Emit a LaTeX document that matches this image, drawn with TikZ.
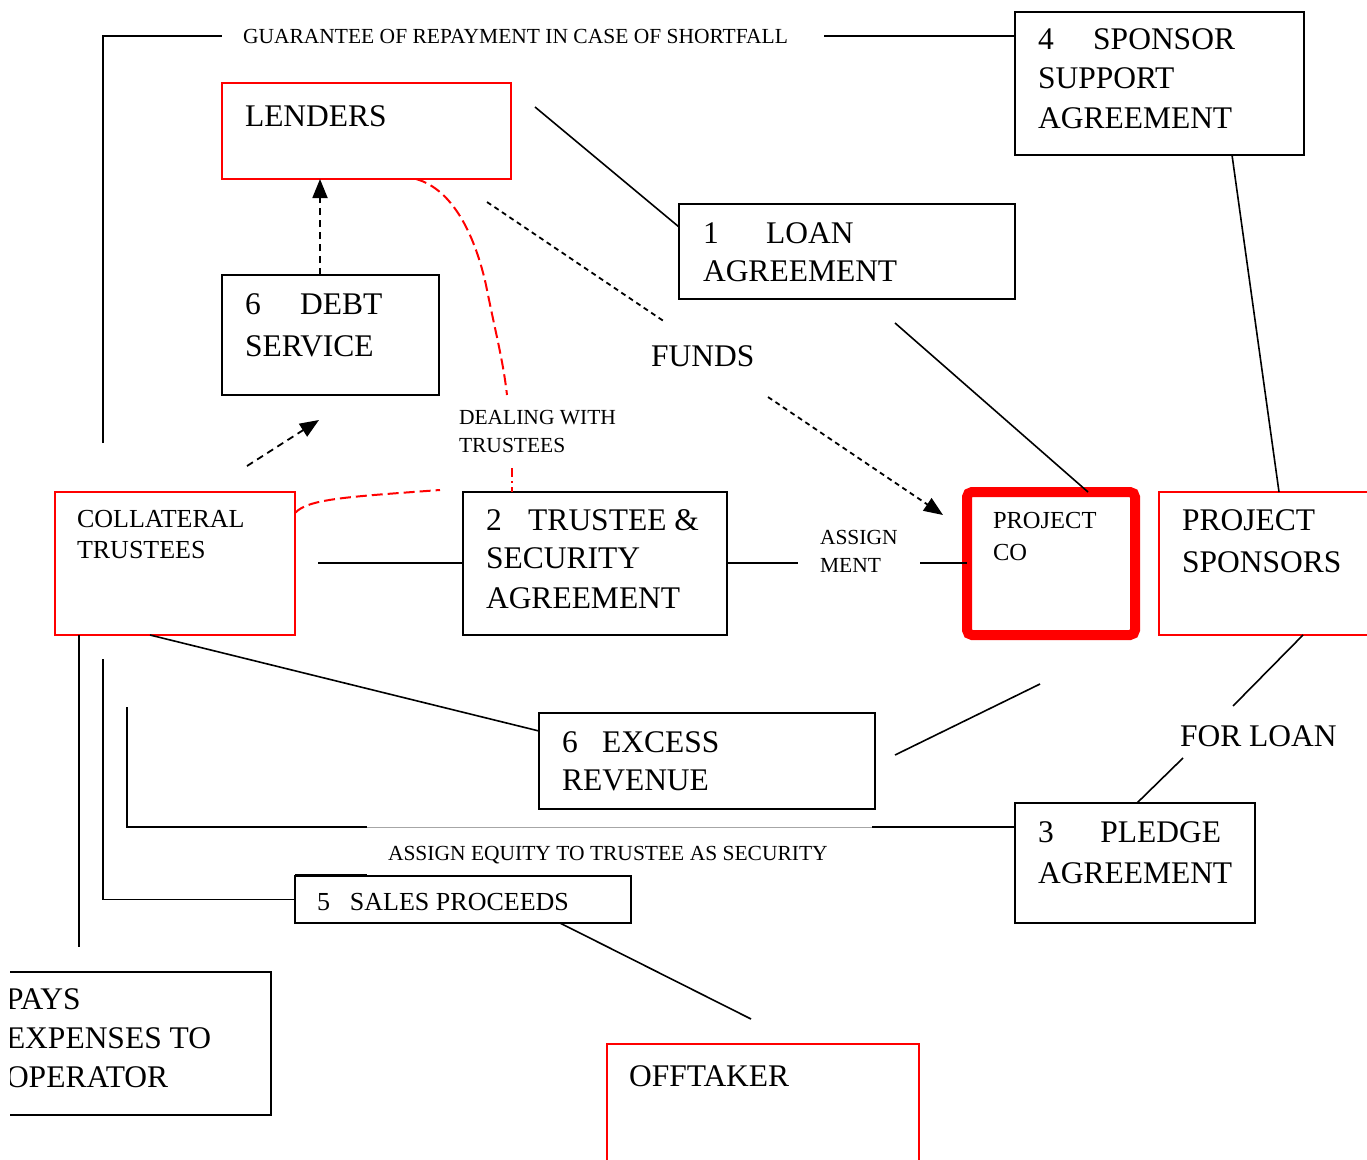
\documentclass[tikz,border=0pt]{standalone}
\usepackage{fontspec}
\setmainfont{Liberation Serif}
\usetikzlibrary{arrows.meta,calc}
\newcommand\myfs[1]{\fontsize{#1}{#1}\selectfont}
\tikzset{
  bbox/.style={draw=black, line width=1.6pt, inner sep=0pt, outer sep=0pt, anchor=north west},
  rbox/.style={draw=red, line width=1.4pt, inner sep=0pt, outer sep=0pt, anchor=north west},
  pbox/.style={draw=red, line width=10pt, rounded corners=5pt, inner sep=0pt, outer sep=0pt, anchor=north west},
  big/.style={inner sep=0pt, outer sep=0pt, anchor=base west, font=\myfs{31.5}},
  med/.style={inner sep=0pt, outer sep=0pt, anchor=base west, font=\myfs{26}},
  pco/.style={inner sep=0pt, outer sep=0pt, anchor=base west, font=\myfs{24.5}},
  sml/.style={inner sep=0pt, outer sep=0pt, anchor=base west, font=\myfs{21.5}},
  conn/.style={line width=1.6pt},
  greyline/.style={line width=0.8pt, draw=black!35},
  dsh/.style={line width=1.8pt, dash pattern=on 7pt off 5pt},
  fund/.style={line width=1.8pt, dash pattern=on 5pt off 4pt},
  rdsh/.style={line width=2pt, draw=red, dash pattern=on 11pt off 5pt},
  rdashdot/.style={line width=2pt, draw=red, dash pattern=on 9pt off 4pt on 2pt off 4pt},
  tip/.style={-{Triangle[length=19pt,width=15pt]}}
}
\begin{document}
\begin{tikzpicture}[x=1pt,y=-1pt]
\useasboundingbox (0,0) rectangle (1367,1159);
\clip (0,0) rectangle (1367,1159);

% ---------- boxes ----------
\node[bbox, minimum width=289pt, minimum height=143pt] (box4) at (1015,12) {};
\node[rbox, minimum width=289pt, minimum height=96pt] (lenders) at (222,83) {};
\node[bbox, minimum width=336pt, minimum height=95pt] (loan) at (679,204) {};
\node[bbox, minimum width=217pt, minimum height=120pt] (debt) at (222,275) {};
\node[rbox, minimum width=240pt, minimum height=143pt] (coll) at (55,492) {};
\node[bbox, minimum width=264pt, minimum height=143pt] (trust) at (463,492) {};
\node[pbox, minimum width=168pt, minimum height=143pt] (pco) at (967,492) {};
\node[rbox, minimum width=240pt, minimum height=143pt] (spons) at (1159,492) {};
\node[bbox, minimum width=336pt, minimum height=96pt] (excess) at (539,713) {};
\node[bbox, minimum width=240pt, minimum height=120pt] (pledge) at (1015,803) {};
\node[bbox, minimum width=336pt, minimum height=47pt] (sales) at (295,876) {};
\node[rbox, minimum width=312pt, minimum height=150pt] (offt) at (607,1044) {};

% ---------- texts ----------
\node[sml] (tguar) at (243,43) {GUARANTEE OF REPAYMENT IN CASE OF SHORTFALL};
\node[big] (t4a) at (1038,49) {4\hspace{39.5pt}SPONSOR};
\node[big] (t4b) at (1038,88) {SUPPORT};
\node[big] (t4c) at (1038,128) {AGREEMENT};
\node[big] (tlend) at (245,126) {LENDERS};
\node[big] (t1a) at (703,243) {1\hspace{47.5pt}LOAN};
\node[big] (t1b) at (703,281) {AGREEMENT};
\node[big] (tdebta) at (245,314) {6\hspace{39.5pt}DEBT};
\node[big] (tdebtb) at (245,356) {SERVICE};
\node[big] (tfunds) at (651,366) {FUNDS};
\node[sml] (tdeala) at (459,424) {DEALING WITH};
\node[sml] (tdealb) at (459,452) {TRUSTEES};
\node[med] (tcolla) at (77,527) {COLLATERAL};
\node[med] (tcollb) at (77,558) {TRUSTEES};
\node[big] (t2a) at (486,530) {2\hspace{26.5pt}TRUSTEE \&};
\node[big] (t2b) at (486,568) {SECURITY};
\node[big] (t2c) at (486,608) {AGREEMENT};
\node[sml] (tassa) at (820,544) {ASSIGN};
\node[sml] (tassb) at (820,572) {MENT};
\node[pco] (tpcoa) at (993,528) {PROJECT};
\node[pco] (tpcob) at (993,560) {CO};
\node[big] (tspa) at (1182,530) {PROJECT};
\node[big] (tspb) at (1182,572) {SPONSORS};
\node[big] (tfor) at (1180,746) {FOR LOAN};
\node[big] (t6a) at (562,752) {6\hspace{24.5pt}EXCESS};
\node[big] (t6b) at (562,790) {REVENUE};
\node[big] (t3a) at (1038,842) {3\hspace{46.5pt}PLEDGE};
\node[big] (t3b) at (1038,883) {AGREEMENT};
\node[sml] (tequity) at (388,860) {ASSIGN EQUITY TO TRUSTEE AS SECURITY};
\node[med] (t5) at (317,910) {5\hspace{20pt}SALES PROCEEDS};
\node[big] (toff) at (629,1086) {OFFTAKER};

\begin{scope}
\clip (10,950) rectangle (300,1130);
\node[bbox, minimum width=290pt, minimum height=143pt] (pays) at (-19,972) {};
\node[big] (tpaya) at (6,1009) {PAYS};
\node[big] (tpayb) at (6,1048) {EXPENSES TO};
\node[big] (tpayc) at (6,1087) {OPERATOR};
\end{scope}

% ---------- connectors ----------
% guarantee of repayment
\coordinate (gA) at (103,443); \coordinate (gB) at (222,36); \coordinate (gC) at (824,36);
\draw[conn] (gA) |- (gB);
\draw[conn] (gC) -- (gC -| box4.west);

% lenders -- loan agreement
\coordinate (lA) at (535,107); \coordinate (lB) at (600,227);
\draw[conn] (lA) -- (lB -| loan.west);

% loan agreement -- project co
\coordinate (pA) at (895,323); \coordinate (pB) at (1088,400);
\draw[conn] (pA) -- (pB |- pco.north);

% sponsor support -- project sponsors
\coordinate (sA) at (1232,300); \coordinate (sB) at (1279,300);
\draw[conn] (sA |- box4.south) -- (sB |- spons.north);

% funds
\coordinate (fA) at (487,202); \coordinate (fB) at (665,322);
\coordinate (fC) at (768,397); \coordinate (fD) at (943,515);
\draw[fund] (fA) -- (fB);
\draw[fund, tip] (fC) -- (fD);

% debt service -> lenders
\coordinate (dA) at (320,230);
\draw[dsh, tip] (dA |- debt.north) -- (dA |- lenders.south);

% collateral trustees -> debt service
\coordinate (cA) at (247,466); \coordinate (cB) at (319,420);
\draw[dsh, tip] (cA) -- (cB);

% dealing with trustees (red)
\coordinate (rA) at (416,250); \coordinate (rB) at (507,395);
\draw[rdsh] (rA |- lenders.south) .. controls (455,190) and (476,240) .. (486,285)
  .. controls (496,335) and (503,360) .. (rB);
\coordinate (rC) at (512,468);
\draw[rdashdot] (rC) -- (rC |- trust.north);
\coordinate (rD) at (250,513); \coordinate (rE) at (440,490);
\draw[rdsh] (rD -| coll.east) .. controls (308,499) and (345,497) .. (rE);

% collateral -- trustee & security
\coordinate (tA) at (318,563);
\draw[conn] (tA) -- (tA -| trust.west);

% assignment
\coordinate (aA) at (798,563); \coordinate (aB) at (920,563);
\draw[conn] (aA -| trust.east) -- (aA);
\draw[conn] (aB) -- (aB -| pco.west);

% project sponsors -- for loan -- pledge
\coordinate (fl1) at (1303,600); \coordinate (fl2) at (1233,706);
\coordinate (fl3) at (1183,758); \coordinate (fl4) at (1137,780);
\draw[conn] (fl1 |- spons.south) -- (fl2);
\draw[conn] (fl3) -- (fl4 |- pledge.north);

% collateral -- excess revenue
\coordinate (eA) at (150,600); \coordinate (eB) at (500,731);
\draw[conn] (eA |- coll.south) -- (eB -| excess.west);

% excess revenue -- project co
\coordinate (xA) at (895,755); \coordinate (xB) at (1040,684);
\draw[conn] (xA) -- (xB);

% assign equity
\coordinate (qA) at (127,707); \coordinate (qB) at (367,827); \coordinate (qC) at (872,827);
\draw[conn] (qA) |- (qB);
\draw[greyline] (qB) -- (qC);
\draw[conn] (qC) -- (qC -| pledge.west);

% sales proceeds
\coordinate (spA) at (103,659);
\draw[conn] (spA) |- (sales.west);
\coordinate (spB) at (367,875);
\draw[conn] (spB -| sales.west) -- (spB);
\coordinate (oA) at (560,950); \coordinate (oB) at (751,1019);
\draw[conn] (oA |- sales.south) -- (oB);

% collateral -- pays expenses
\coordinate (yA) at (79,947); 
\draw[conn] (yA |- coll.south) -- (yA);
\end{tikzpicture}
\end{document}
